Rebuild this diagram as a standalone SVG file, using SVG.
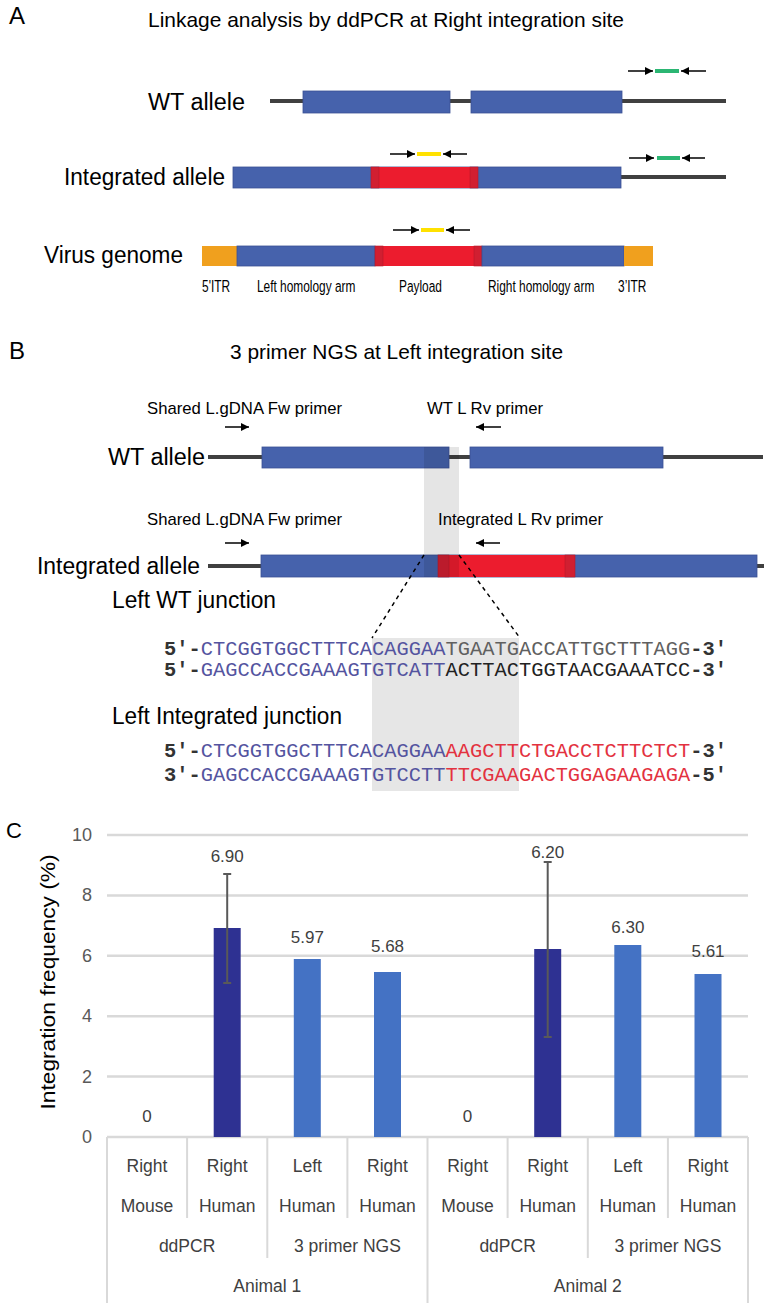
<svg xmlns="http://www.w3.org/2000/svg" width="771" height="1303" viewBox="0 0 771 1303">
<defs>
<marker id="ah" markerUnits="userSpaceOnUse" markerWidth="8" markerHeight="8" refX="8" refY="4" orient="auto"><path d="M0,0 L8,4 L0,8 z" fill="#000"/></marker>
</defs>
<style>
text{font-family:"Liberation Sans",Arial,sans-serif;fill:#000}
.hdr{font-size:24px}
.ttl{font-size:21px}
.big{font-size:23px}
.pl{font-size:17px}
.vl{font-size:17px}
.seq{font-family:"Liberation Mono","DejaVu Sans Mono","Courier New",monospace;font-size:20.4px}
.b{font-weight:bold;fill:#333}
.bl{fill:#54549f}
.gy{fill:#606060}
.bk{fill:#222}
.rd{fill:#e3323f}
.chr{stroke:#404040;stroke-width:4}
.blue{fill:#4662ac;stroke:#3a5295;stroke-width:0.8}
.red{fill:#ec1c2e}
.dred{fill:#d11f31;stroke:#b81a2a;stroke-width:0.6}
.org{fill:#f0a01e}
.pr{stroke:#000;stroke-width:1.5;marker-end:url(#ah)}
.yb{stroke:#ffe100;stroke-width:4}
.gb{stroke:#2bb673;stroke-width:4}
.shade{fill:#000;fill-opacity:0.1}
.dash{stroke:#000;stroke-width:1.5;stroke-dasharray:4 4;fill:none}
.grid{stroke:#d9d9d9;stroke-width:2.5}
.tbl{stroke:#d9d9d9;stroke-width:2}
.ct{font-size:17.5px;fill:#404040}
.tk{font-size:18px;fill:#595959}
.vt{font-size:17px;fill:#404040}
.dbar{fill:#2e3192}
.lbar{fill:#4472c4}
.err{stroke:#595959;stroke-width:2}
</style>

<!-- Panel A -->
<g id="panel-a-title">
<text x="9" y="24" class="hdr">A</text>
<text x="148" y="27" class="ttl" textLength="476" lengthAdjust="spacingAndGlyphs">Linkage analysis by ddPCR at Right integration site</text>
</g>

<g id="wt-allele-a">
<text x="148" y="110" class="big" textLength="97" lengthAdjust="spacingAndGlyphs">WT allele</text>
<line x1="270" y1="101" x2="726" y2="101" class="chr"/>
<rect x="303" y="91" width="147" height="22" class="blue"/>
<rect x="471" y="91" width="151" height="22" class="blue"/>
</g>

<g id="integrated-allele-a">
<text x="64" y="185" class="big" textLength="161" lengthAdjust="spacingAndGlyphs">Integrated allele</text>
<line x1="621" y1="177" x2="726" y2="177" class="chr"/>
<rect x="233" y="167" width="388" height="21" class="blue"/>
<rect x="371" y="167" width="107" height="21" class="red"/>
<rect x="371" y="167" width="8" height="21" class="dred"/>
<rect x="470" y="167" width="8" height="21" class="dred"/>
</g>

<g id="virus-genome">
<text x="44" y="263" class="big" textLength="139" lengthAdjust="spacingAndGlyphs">Virus genome</text>
<rect x="202" y="246" width="35" height="20" class="org"/>
<rect x="237" y="246" width="138" height="20" class="blue"/>
<rect x="375" y="246" width="107" height="20" class="red"/>
<rect x="375" y="246" width="8" height="20" class="dred"/>
<rect x="474" y="246" width="8" height="20" class="dred"/>
<rect x="482" y="246" width="142" height="20" class="blue"/>
<rect x="624" y="246" width="29" height="20" class="org"/>
<g transform="scale(0.7,1)">
<text x="288.6" y="292" class="vl">5'ITR</text>
<text x="367.1" y="292" class="vl">Left homology arm</text>
<text x="570" y="292" class="vl">Payload</text>
<text x="697.1" y="292" class="vl">Right homology arm</text>
<text x="882.9" y="292" class="vl">3’ITR</text>
</g>
</g>

<g id="amplicons-a">
<line x1="655" y1="71" x2="679" y2="71" class="gb"/>
<line x1="417" y1="154" x2="441" y2="154" class="yb"/>
<line x1="657" y1="158" x2="680" y2="158" class="gb"/>
<line x1="421" y1="230" x2="444" y2="230" class="yb"/>
</g>

<!-- Panel B -->
<g id="panel-b-title">
<text x="9" y="359" class="hdr">B</text>
<text x="230" y="359" class="ttl" textLength="333" lengthAdjust="spacingAndGlyphs">3 primer NGS at Left integration site</text>
</g>

<g id="primer-labels-b">
<text x="147" y="414" class="pl" textLength="195" lengthAdjust="spacingAndGlyphs">Shared L.gDNA Fw primer</text>
<text x="427" y="414" class="pl" textLength="116" lengthAdjust="spacingAndGlyphs">WT L Rv primer</text>
<text x="147" y="525" class="pl" textLength="195" lengthAdjust="spacingAndGlyphs">Shared L.gDNA Fw primer</text>
<text x="438" y="525" class="pl" textLength="165" lengthAdjust="spacingAndGlyphs">Integrated L Rv primer</text>
</g>

<g id="wt-allele-b">
<text x="108" y="465" class="big" textLength="97" lengthAdjust="spacingAndGlyphs">WT allele</text>
<line x1="208" y1="457" x2="763" y2="457" class="chr"/>
<rect x="262" y="447" width="187" height="21" class="blue"/>
<rect x="470" y="447" width="193" height="21" class="blue"/>
</g>

<g id="integrated-allele-b">
<text x="37" y="574" class="big" textLength="163" lengthAdjust="spacingAndGlyphs">Integrated allele</text>
<line x1="208" y1="566" x2="764" y2="566" class="chr"/>
<rect x="261" y="555" width="496" height="22" class="blue"/>
<rect x="438" y="555" width="137" height="22" class="red"/>
<rect x="438" y="555" width="11" height="22" class="dred"/>
<rect x="565" y="555" width="10" height="22" class="dred"/>
</g>

<g id="junction-highlight">
<rect x="424" y="447" width="35" height="130" class="shade"/>
<rect x="372" y="638" width="147" height="153" fill="#e6e6e6"/>
</g>

<g id="left-wt-junction">
<text x="112" y="608" class="big" textLength="164" lengthAdjust="spacingAndGlyphs">Left WT junction</text>
<text class="seq" y="655"><tspan x="164" class="b">5′-</tspan><tspan x="200.7" class="bl">CTCGGTGGCTTTCACAGGAA</tspan><tspan x="445.5" class="gy">TGAATGACCATTGCTTTAGG</tspan><tspan x="690.3" class="b">-3′</tspan></text>
<text class="seq" y="676"><tspan x="164" class="b">5′-</tspan><tspan x="200.7" class="bl">GAGCCACCGAAAGTGTCATT</tspan><tspan x="445.5" class="bk">ACTTACTGGTAACGAAATCC</tspan><tspan x="690.3" class="b">-3′</tspan></text>
</g>

<g id="left-integrated-junction">
<text x="112" y="724" class="big" textLength="230" lengthAdjust="spacingAndGlyphs">Left Integrated junction</text>
<text class="seq" y="757"><tspan x="164" class="b">5′-</tspan><tspan x="200.7" class="bl">CTCGGTGGCTTTCACAGGAA</tspan><tspan x="445.5" class="rd">AAGCTTCTGACCTCTTCTCT</tspan><tspan x="690.3" class="b">-3′</tspan></text>
<text class="seq" y="781"><tspan x="164" class="b">3′-</tspan><tspan x="200.7" class="bl">GAGCCACCGAAAGTGTCCTT</tspan><tspan x="445.5" class="rd">TTCGAAGACTGGAGAAGAGA</tspan><tspan x="690.3" class="b">-5′</tspan></text>
</g>

<g id="connectors">
<line x1="628" y1="71" x2="653" y2="71" class="pr"/>
<line x1="706" y1="71" x2="681" y2="71" class="pr"/>
<line x1="390" y1="154" x2="415" y2="154" class="pr"/>
<line x1="467" y1="154" x2="443" y2="154" class="pr"/>
<line x1="629" y1="158" x2="654" y2="158" class="pr"/>
<line x1="705" y1="158" x2="682" y2="158" class="pr"/>
<line x1="393" y1="230" x2="419" y2="230" class="pr"/>
<line x1="470" y1="230" x2="446" y2="230" class="pr"/>
<line x1="225" y1="427" x2="249" y2="427" class="pr"/>
<line x1="501" y1="427" x2="476" y2="427" class="pr"/>
<line x1="225" y1="543" x2="249" y2="543" class="pr"/>
<line x1="500" y1="543" x2="476" y2="543" class="pr"/>
<line x1="424" y1="555" x2="372" y2="638" class="dash"/>
<line x1="459" y1="555" x2="520" y2="638" class="dash"/>
</g>

<!-- Panel C -->
<g id="panel-c-title">
<text x="6" y="838" font-size="22" fill="#000">C</text>
</g>

<g id="chart-grid">
<line x1="107" y1="835" x2="748" y2="835" class="grid"/>
<line x1="107" y1="895.4" x2="748" y2="895.4" class="grid"/>
<line x1="107" y1="955.8" x2="748" y2="955.8" class="grid"/>
<line x1="107" y1="1016.2" x2="748" y2="1016.2" class="grid"/>
<line x1="107" y1="1076.6" x2="748" y2="1076.6" class="grid"/>
<line x1="107" y1="1137" x2="748" y2="1137" class="grid"/>
</g>

<g id="y-axis">
<text x="92" y="841" class="tk" text-anchor="end">10</text>
<text x="92" y="901.4" class="tk" text-anchor="end">8</text>
<text x="92" y="961.8" class="tk" text-anchor="end">6</text>
<text x="92" y="1022.2" class="tk" text-anchor="end">4</text>
<text x="92" y="1082.6" class="tk" text-anchor="end">2</text>
<text x="92" y="1143" class="tk" text-anchor="end">0</text>
<text transform="translate(55,982) rotate(-90)" text-anchor="middle" font-size="20" fill="#111" textLength="255" lengthAdjust="spacingAndGlyphs">Integration frequency (%)</text>
</g>

<g id="bars">
<rect x="213.7" y="928" width="27" height="209" class="dbar"/>
<rect x="293.8" y="959" width="27" height="178" class="lbar"/>
<rect x="374" y="972" width="27" height="165" class="lbar"/>
<rect x="534.2" y="949" width="27" height="188" class="dbar"/>
<rect x="614.3" y="945" width="27" height="192" class="lbar"/>
<rect x="694.5" y="974" width="27" height="163" class="lbar"/>
</g>

<g id="error-bars">
<line x1="227.2" y1="874" x2="227.2" y2="983" class="err"/>
<line x1="223.2" y1="874" x2="231.2" y2="874" class="err"/>
<line x1="223.2" y1="983" x2="231.2" y2="983" class="err"/>
<line x1="547.7" y1="862" x2="547.7" y2="1037" class="err"/>
<line x1="543.7" y1="862" x2="551.7" y2="862" class="err"/>
<line x1="543.7" y1="1037" x2="551.7" y2="1037" class="err"/>
</g>

<g id="value-labels">
<text x="147" y="1122" class="vt" text-anchor="middle">0</text>
<text x="227.2" y="862" class="vt" text-anchor="middle">6.90</text>
<text x="307.3" y="943" class="vt" text-anchor="middle">5.97</text>
<text x="387.5" y="952" class="vt" text-anchor="middle">5.68</text>
<text x="467.6" y="1122" class="vt" text-anchor="middle">0</text>
<text x="547.7" y="858" class="vt" text-anchor="middle">6.20</text>
<text x="627.8" y="933" class="vt" text-anchor="middle">6.30</text>
<text x="708" y="957" class="vt" text-anchor="middle">5.61</text>
</g>

<g id="category-axis">
<line x1="107" y1="1137" x2="107" y2="1303" class="tbl"/>
<line x1="427.5" y1="1137" x2="427.5" y2="1303" class="tbl"/>
<line x1="748" y1="1137" x2="748" y2="1303" class="tbl"/>
<line x1="267.3" y1="1137" x2="267.3" y2="1258" class="tbl"/>
<line x1="587.8" y1="1137" x2="587.8" y2="1258" class="tbl"/>
<line x1="187.1" y1="1137" x2="187.1" y2="1218" class="tbl"/>
<line x1="347.4" y1="1137" x2="347.4" y2="1218" class="tbl"/>
<line x1="507.6" y1="1137" x2="507.6" y2="1218" class="tbl"/>
<line x1="667.9" y1="1137" x2="667.9" y2="1218" class="tbl"/>
<g text-anchor="middle" class="ct">
<text x="147" y="1172" class="ct">Right</text>
<text x="227.2" y="1172" class="ct">Right</text>
<text x="307.3" y="1172" class="ct">Left</text>
<text x="387.5" y="1172" class="ct">Right</text>
<text x="467.6" y="1172" class="ct">Right</text>
<text x="547.7" y="1172" class="ct">Right</text>
<text x="627.8" y="1172" class="ct">Left</text>
<text x="708" y="1172" class="ct">Right</text>
<text x="147" y="1212" class="ct">Mouse</text>
<text x="227.2" y="1212" class="ct">Human</text>
<text x="307.3" y="1212" class="ct">Human</text>
<text x="387.5" y="1212" class="ct">Human</text>
<text x="467.6" y="1212" class="ct">Mouse</text>
<text x="547.7" y="1212" class="ct">Human</text>
<text x="627.8" y="1212" class="ct">Human</text>
<text x="708" y="1212" class="ct">Human</text>
<text x="187.1" y="1252" class="ct">ddPCR</text>
<text x="347.4" y="1252" class="ct">3 primer NGS</text>
<text x="507.6" y="1252" class="ct">ddPCR</text>
<text x="667.9" y="1252" class="ct">3 primer NGS</text>
<text x="267.3" y="1292" class="ct">Animal 1</text>
<text x="587.8" y="1292" class="ct">Animal 2</text>
</g>
</g>
</svg>
